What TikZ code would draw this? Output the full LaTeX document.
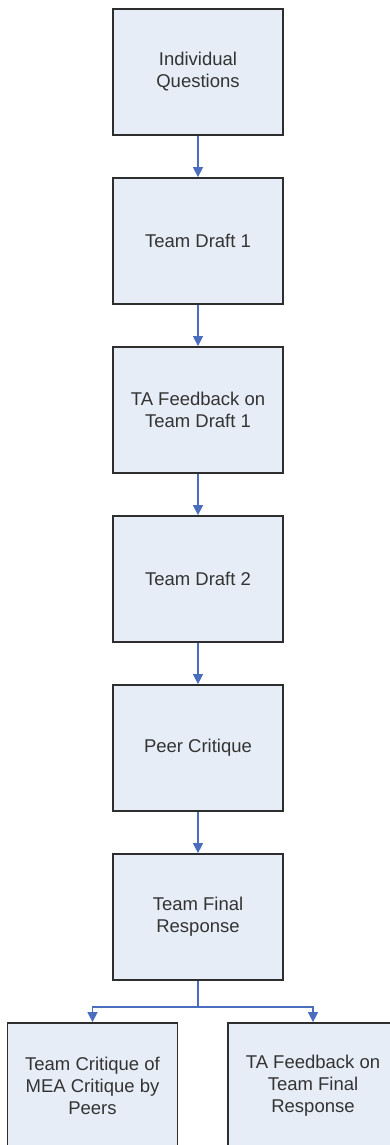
\documentclass[tikz,border=0pt]{standalone}
\usepackage{fontspec}
\setmainfont{Liberation Sans}
\usetikzlibrary{arrows.meta}
\definecolor{boxfill}{HTML}{E7EDF7}
\definecolor{boxline}{HTML}{2E2E2E}
\definecolor{arrowblue}{HTML}{4A6DBE}
\definecolor{txt}{HTML}{333333}
\tikzset{
  stepbox/.style={draw=boxline, line width=1.8pt, fill=boxfill, minimum width=170pt, minimum height=126pt,
    inner sep=0pt, align=center, text=txt, font=\fontsize{18.5}{22}\selectfont},
  flow/.style={draw=arrowblue, line width=1.4pt, -{Triangle[width=10pt,length=10pt]}},
  flowline/.style={draw=arrowblue, line width=1.4pt}
}
\begin{document}
\begin{tikzpicture}[x=1pt,y=-1pt]
\path[use as bounding box] (0,0) rectangle (390,1145);
\begin{scope}
\clip (0,0) rectangle (390,1145);
\node[stepbox] (b1) at (198,72) {Individual\\Questions};
\node[stepbox] (b2) at (198,241) {Team Draft 1};
\node[stepbox] (b3) at (198,410) {TA Feedback on\\Team Draft 1};
\node[stepbox] (b4) at (198,579) {Team Draft 2};
\node[stepbox] (b5) at (198,748) {Peer Critique};
\node[stepbox] (b6) at (198,917) {Team Final\\Response};
\node[stepbox] (b7) at (92.5,1086) {Team Critique of\\MEA Critique by\\Peers};
\node[stepbox] (b8) at (313,1086) {TA Feedback on\\Team Final\\Response};
\coordinate (j) at (198,1007);
\draw[flow] (b1) -- (b2);
\draw[flow] (b2) -- (b3);
\draw[flow] (b3) -- (b4);
\draw[flow] (b4) -- (b5);
\draw[flow] (b5) -- (b6);
\draw[flowline] (b6.south) -- (j);
\draw[flow] (j) -| (b7.north);
\draw[flow] (j) -| (b8.north);
\end{scope}
\end{tikzpicture}
\end{document}
